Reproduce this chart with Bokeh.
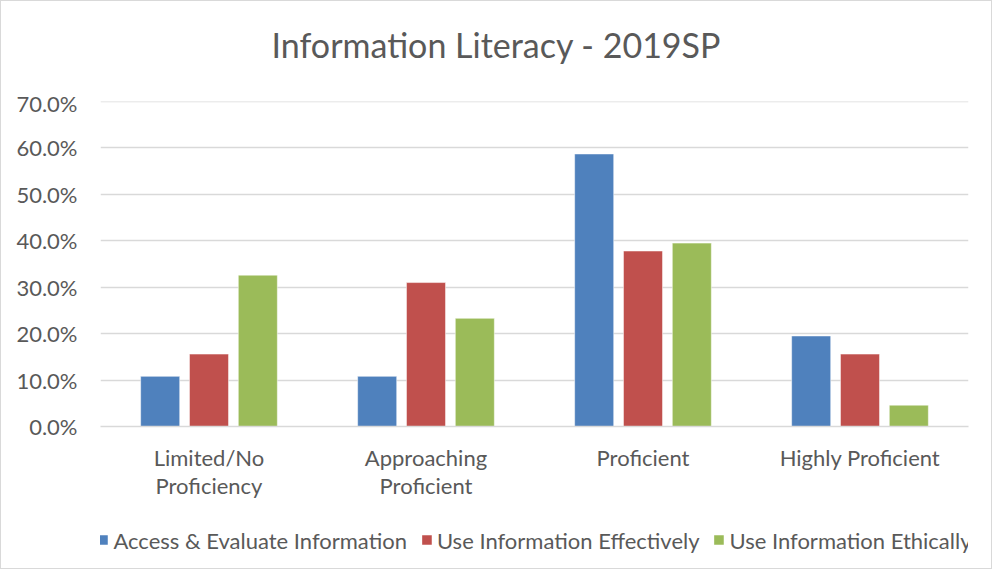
from bokeh.plotting import figure
from bokeh.models import (ColumnDataSource, Range1d, NumeralTickFormatter, FixedTicker,
                          SingleIntervalTicker, Legend, LegendItem, Div)
from bokeh.layouts import column
from bokeh.transform import dodge
from bokeh.embed import file_html
from bokeh.resources import INLINE

title_text = "Information Literacy - 2019SP"
categories = ["Limited/No\nProficiency", "Approaching\nProficient", "Proficient", "Highly Proficient"]
access_evaluate = [0.108, 0.108, 0.587, 0.195]
use_effectively = [0.156, 0.310, 0.378, 0.156]
use_ethically = [0.326, 0.233, 0.395, 0.046]
series_names = ["Access & Evaluate Information", "Use Information Effectively", "Use Information Ethically"]
series_colors = ["#4F81BD", "#C0504D", "#9BBB59"]

FONT = "Lato"
TXT = "#595959"
GRID = "#D9D9D9"

idx = list(range(len(categories)))
source = ColumnDataSource(dict(x=idx, a=access_evaluate, b=use_effectively, c=use_ethically))

W = 990
TITLE_H = 88
MAIN_H = 422
LEG_H = 567 - TITLE_H - MAIN_H

title = Div(text=(f'<div style="width:{W}px;height:{TITLE_H}px;line-height:{TITLE_H}px;'
                  f'text-align:center;font-family:{FONT};font-size:34px;color:{TXT};">{title_text}</div>'),
            width=W, height=TITLE_H, margin=0)

p = figure(width=W, height=MAIN_H, x_range=Range1d(-0.5, len(categories) - 0.5),
           y_range=Range1d(0, 0.70001),
           output_backend="svg", toolbar_location=None, margin=0,
           min_border_left=99, min_border_right=23, min_border_top=100 - TITLE_H,
           min_border_bottom=MAIN_H - (425 - TITLE_H))
p.outline_line_color = None

cols = ["a", "b", "c"]
offsets = [-0.225, 0.0, 0.225]
for col, off, color in zip(cols, offsets, series_colors):
    p.vbar(x=dodge("x", off), top=col, width=0.18, source=source,
           fill_color=color, line_color="white", line_alpha=0.5, line_width=1)

p.xgrid.grid_line_color = None
p.ygrid.grid_line_color = GRID
p.ygrid.grid_line_width = 1.5
p.yaxis.ticker = SingleIntervalTicker(interval=0.1, num_minor_ticks=0)
p.yaxis.formatter = NumeralTickFormatter(format="0.0%")
p.yaxis.axis_line_color = None
p.yaxis.major_tick_line_color = None
p.yaxis.minor_tick_line_color = None
p.yaxis.major_label_standoff = 17

p.xaxis.ticker = FixedTicker(ticks=idx)
p.xaxis.major_label_overrides = {i: c for i, c in zip(idx, categories)}
p.xaxis.axis_line_color = GRID
p.xaxis.axis_line_width = 1.5
p.xaxis.major_tick_line_color = None
p.xaxis.minor_tick_line_color = None
p.xaxis.major_label_standoff = 11

for ax in (p.xaxis[0], p.yaxis[0]):
    ax.major_label_text_font = FONT
    ax.major_label_text_font_size = "22px"
    ax.major_label_text_color = TXT
p.xaxis.major_label_text_line_height = 1.05

# legend strip below the chart (its bars lie outside its visible y range)
pl = figure(width=W, height=LEG_H, output_backend="svg", toolbar_location=None, margin=0,
            x_axis_location=None, y_axis_location=None,
            x_range=Range1d(-0.5, len(categories) - 0.5), y_range=Range1d(10, 11),
            min_border_left=0, min_border_right=18, min_border_top=0, min_border_bottom=0)
pl.grid.visible = False
pl.outline_line_color = None
leg_renderers = [pl.vbar(x=dodge("x", off), top=col, width=0.18, source=source,
                         fill_color=c, line_color=None)
                 for col, off, c in zip(cols, offsets, series_colors)]

legend = Legend(items=[LegendItem(label=n, renderers=[r]) for n, r in zip(series_names, leg_renderers)],
                orientation="horizontal", location="center")
legend.label_text_font = FONT
legend.label_text_font_size = "22px"
legend.label_text_color = TXT
legend.glyph_width = 12
legend.glyph_height = 12
legend.label_standoff = 5
legend.spacing = 13
legend.padding = 0
legend.margin = 0
legend.border_line_color = None
legend.background_fill_alpha = 0
pl.add_layout(legend)

layout = column(title, p, pl, spacing=0, styles={"border": "1px solid #D9D9D9"})
open("out.html", "w").write(file_html(layout, INLINE))
